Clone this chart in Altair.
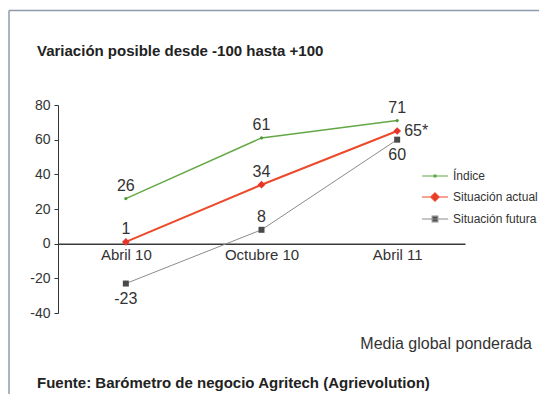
import altair as alt
import pandas as pd

periods = ["Abril 10", "Octubre 10", "Abril 11"]
series = ["Índice", "Situación actual", "Situación futura"]
indice = [26, 61, 71]
actual = [1, 34, 65]
futura = [-23, 8, 60]
actual_notes = ["", "", "*"]
y_ticks = [-40, -20, 0, 20, 40, 60, 80]
title_text = "Variación posible desde -100 hasta +100"
note_text = "Media global ponderada"
source_text = "Fuente: Barómetro de negocio Agritech (Agrievolution)"

line_colors = ["#64a846", "#ec4a2a", "#8c8c8c"]
marker_colors = ["#4f9a36", "#e8352b", "#4a4a4a"]
line_widths = [1.5, 2.0, 1.0]
marker_shapes = ["circle", "diamond", "square"]
marker_sizes = [10, 60, 36]
legend_paths = [
    "M-1.3,0L1.3,0M-0.1,-0.1L0.1,-0.1L0.1,0.1L-0.1,0.1Z",
    "M-1.3,0L1.3,0M0,-0.42L0.42,0L0,0.42L-0.42,0Z",
    "M-1.3,0L1.3,0M-0.28,-0.28L0.28,-0.28L0.28,0.28L-0.28,0.28Z",
]

FONT = "Liberation Sans, Arial, sans-serif"
W, H = 407, 208
Y_MIN, Y_MAX = -40, 80

rows = []
for s, vals in zip(series, [indice, actual, futura]):
    for i, (p, v) in enumerate(zip(periods, vals)):
        note = actual_notes[i] if s == "Situación actual" else ""
        if s == "Situación futura" and p in ("Abril 10", "Abril 11"):
            place = "below"
        elif s == "Situación actual" and p == "Abril 11":
            place = "right"
        else:
            place = "above"
        rows.append(dict(series=s, period=p, value=v, label=f"{v}{note}", place=place))
df = pd.DataFrame(rows)

x_enc = alt.X(
    "period:N", sort=periods,
    scale=alt.Scale(type="point", padding=0.5),
    axis=alt.Axis(title=None, labelAngle=0, ticks=False, domainColor="#3a3a3a",
                  domainWidth=1.5, offset=-(0 - Y_MIN) / (Y_MAX - Y_MIN) * H,
                  labelPadding=4, labelFontSize=15, labelColor="#333333",
                  labelFont=FONT, grid=False),
)
y_enc = alt.Y(
    "value:Q",
    scale=alt.Scale(domain=[Y_MIN, Y_MAX], nice=False, zero=False),
    axis=alt.Axis(title=None, values=y_ticks, grid=False, tickSize=4,
                  domainColor="#333333", tickColor="#333333", labelFontSize=14,
                  labelPadding=4, labelColor="#333333", labelFont=FONT,
                  labelExpr="'' + datum.value"),
)

base = alt.Chart(df)
layers = []

# frame
layers.append(alt.Chart(pd.DataFrame({"a": [0]})).mark_rule(color="#8d9cad", strokeWidth=1.5).encode(
    x=alt.value(-49), y=alt.value(-94.5), y2=alt.value(300)))
layers.append(alt.Chart(pd.DataFrame({"a": [0]})).mark_rule(color="#8d9cad", strokeWidth=1.5).encode(
    x=alt.value(-49), x2=alt.value(490), y=alt.value(-94.5)))

for s, lc, lw in zip(series, line_colors, line_widths):
    layers.append(base.transform_filter(alt.datum.series == s).mark_line(
        color=lc, strokeWidth=lw).encode(x=x_enc, y=y_enc))
for s, mc, ms, sz in zip(series, marker_colors, marker_shapes, marker_sizes):
    layers.append(base.transform_filter(alt.datum.series == s).mark_point(
        filled=True, color=mc, shape=ms, size=sz, opacity=1).encode(x=x_enc, y=y_enc))

txt = dict(font=FONT, fontSize=16, color="#333333")
layers.append(base.transform_filter(alt.datum.place == "above").mark_text(
    baseline="bottom", dy=-5, **txt).encode(x=x_enc, y=y_enc, text="label:N"))
layers.append(base.transform_filter(alt.datum.place == "below").mark_text(
    baseline="top", dy=7, **txt).encode(x=x_enc, y=y_enc, text="label:N"))
layers.append(base.transform_filter(alt.datum.place == "right").mark_text(
    align="left", baseline="middle", dx=7, **txt).encode(x=x_enc, y=y_enc, text="label:N"))

# legend (from scales only)
leg_kw = dict(title=None)
layers.append(base.transform_filter("false").mark_point(filled=True, size=400, strokeWidth=1.2, opacity=1).encode(
    shape=alt.Shape("series:N", scale=alt.Scale(domain=series, range=legend_paths), legend=alt.Legend(**leg_kw)),
    stroke=alt.Stroke("series:N", scale=alt.Scale(domain=series, range=line_colors), legend=alt.Legend(**leg_kw)),
    fill=alt.Fill("series:N", scale=alt.Scale(domain=series, range=marker_colors), legend=alt.Legend(**leg_kw)),
))

# texts
def text_layer(t, x, y, align, bold, size):
    return alt.Chart(pd.DataFrame({"t": [t]})).mark_text(
        align=align, baseline="alphabetic", fontWeight="bold" if bold else "normal",
        fontSize=size, font=FONT, color="#222222" if bold else "#333333").encode(
        x=alt.value(x), y=alt.value(y), text="t:N")

layers.append(text_layer(title_text, -21, -49, "left", True, 15))
layers.append(text_layer(note_text, 474, 244, "right", False, 16))
layers.append(text_layer(source_text, -21, 283, "left", True, 15))

chart = alt.layer(*layers).properties(
    width=W, height=H, autosize="none",
    padding={"left": 50, "top": 97, "right": 74, "bottom": 81},
).configure_view(stroke=None).configure_legend(
    orient="none", legendX=366, legendY=60, labelFont=FONT, labelFontSize=12,
    labelColor="#333333", symbolSize=400, rowPadding=4, labelOffset=7,
    symbolStrokeWidth=1.2,
)

chart.save("out.html", embed_options={"renderer": "svg", "actions": False})
